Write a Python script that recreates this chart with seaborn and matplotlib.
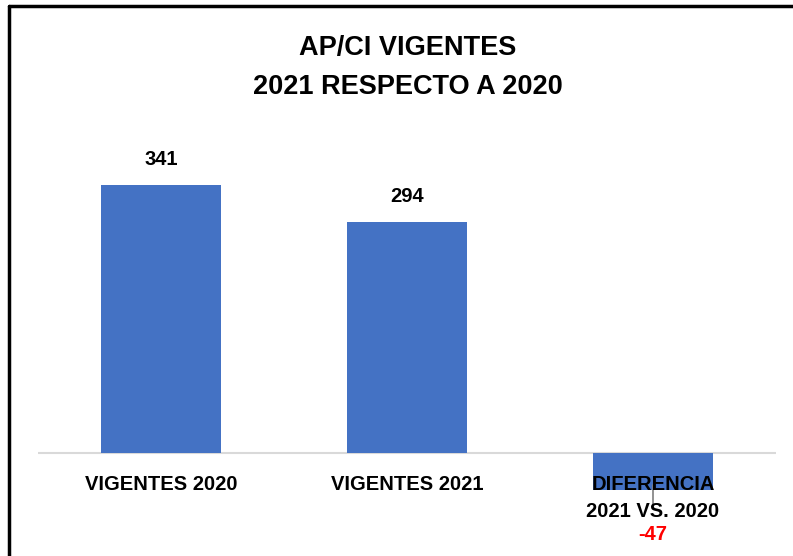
import numpy as np
import pandas as pd
import matplotlib
matplotlib.use("Agg")
import matplotlib.pyplot as plt
from matplotlib.lines import Line2D
import seaborn as sns

# datos del grafico
categorias = ["VIGENTES 2020", "VIGENTES 2021", "DIFERENCIA\n2021 VS. 2020"]
valores = [341, 294, -47]
titulo = ["AP/CI VIGENTES", "2021 RESPECTO A 2020"]

sns.set_theme(style="white")
plt.rcParams['font.family'] = ['Liberation Sans', 'DejaVu Sans']
plt.rcParams['text.color'] = 'black'

df = pd.DataFrame({'cat': categorias, 'val': valores})

W, H = 793, 556
fig = plt.figure(figsize=(W / 100, H / 100), dpi=100)
ax = fig.add_axes([38 / W, 1 - 540 / H, (776 - 38) / W, (540 - 130) / H])

sns.barplot(data=df, x='cat', y='val', color='#4472C4', saturation=1,
            width=0.485, linewidth=0, ax=ax)
ax.set_ylim(-(540 - 453) / 0.786, (453 - 130) / 0.786)
ax.set_xlim(-0.5, 2.5)
ax.axhline(0, color='#D9D9D9', lw=1.5, zorder=0)
ax.axis('off')

# etiquetas de categoria y valores
fs = 14.5
for i, (c, v) in enumerate(zip(categorias, valores)):
    for j, linea in enumerate(c.split('\n')):
        ax.annotate(linea, xy=(i, 0), xytext=(0, -22.5 - 19.5 * j),
                    textcoords='offset points', ha='center', va='center',
                    fontsize=fs, fontweight='bold', color='black', zorder=5)
    if v >= 0:
        ax.annotate(str(v), xy=(i, v), xytext=(0, 18), textcoords='offset points',
                    ha='center', va='center', fontsize=fs, fontweight='bold',
                    color='black')
    else:
        # linea guia de la etiqueta
        ax.plot([i, i], [v + 6, v - 18], color='#7F7F7F', lw=1.2, zorder=4)
        ax.annotate(str(v), xy=(i, 0), xytext=(0, -59), textcoords='offset points',
                    ha='center', va='center', fontsize=fs, fontweight='bold',
                    color='#FF0000')

# titulo
fig.text(408 / W, 1 - 48 / H, titulo[0], ha='center', va='center',
         fontsize=19.5, fontweight='bold', color='black')
fig.text(408 / W, 1 - 87 / H, titulo[1], ha='center', va='center',
         fontsize=19.5, fontweight='bold', color='black')

# borde superior e izquierdo
fig.add_artist(Line2D([9 / W, 9 / W], [0, 1 - 6 / H], color='black', lw=2.5,
                      transform=fig.transFigure))
fig.add_artist(Line2D([9 / W, 1], [1 - 6 / H, 1 - 6 / H], color='black', lw=2.5,
                      transform=fig.transFigure))

fig.savefig('out.png', dpi=100)
